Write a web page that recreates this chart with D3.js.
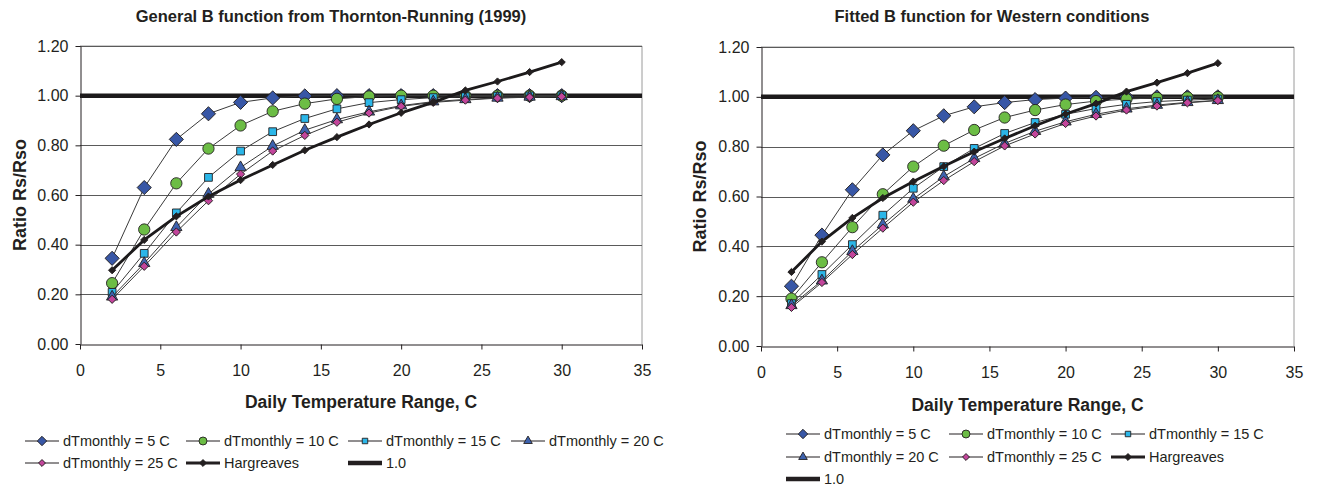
<!DOCTYPE html>
<html>
<head>
<meta charset="utf-8">
<script src="https://cdn.jsdelivr.net/npm/d3@7"></script>
<style>
  body { margin: 0; background: #fff; }
  svg { display: block; }
  text { font-family: "Liberation Sans", Arial, sans-serif; fill: #231f20; }
</style>
</head>
<body>
<svg id="chart" width="1322" height="489"></svg>
<script>
'use strict';

// daily temperature range (x)
const dtRange = [2, 4, 6, 8, 10, 12, 14, 16, 18, 20, 22, 24, 26, 28, 30];
const xTicks = [0, 5, 10, 15, 20, 25, 30, 35];
const yTicks = [0, 0.2, 0.4, 0.6, 0.8, 1.0, 1.2];
const unityX = [0, 35];
const unityY = [1.0, 1.0];

// General B function (Thornton-Running 1999)
const generalDT5 = [0.345, 0.63, 0.824, 0.927, 0.973, 0.991, 0.999, 1.0, 1.0, 1.0, 1.0, 1.0, 1.0, 1.0, 1.0];
const generalDT10 = [0.245, 0.461, 0.647, 0.787, 0.88, 0.937, 0.968, 0.987, 0.997, 1.0, 1.0, 1.0, 1.0, 1.0, 1.0];
const generalDT15 = [0.208, 0.365, 0.528, 0.671, 0.777, 0.855, 0.908, 0.947, 0.972, 0.984, 0.992, 0.996, 0.998, 0.999, 1.0];
const generalDT20 = [0.19, 0.325, 0.47, 0.604, 0.711, 0.797, 0.861, 0.904, 0.935, 0.96, 0.976, 0.985, 0.991, 0.995, 0.997];
const generalDT25 = [0.18, 0.313, 0.451, 0.577, 0.684, 0.777, 0.84, 0.893, 0.93, 0.957, 0.973, 0.982, 0.99, 0.994, 0.996];

// Fitted B function (Western conditions)
const fittedDT5 = [0.24, 0.445, 0.627, 0.767, 0.864, 0.924, 0.96, 0.977, 0.989, 0.995, 0.998, 1.0, 1.0, 1.0, 1.0];
const fittedDT10 = [0.19, 0.336, 0.477, 0.609, 0.72, 0.804, 0.867, 0.917, 0.947, 0.969, 0.983, 0.991, 0.996, 0.998, 0.999];
const fittedDT15 = [0.17, 0.287, 0.407, 0.525, 0.633, 0.72, 0.793, 0.853, 0.897, 0.93, 0.953, 0.97, 0.981, 0.987, 0.991];
const fittedDT20 = [0.163, 0.262, 0.38, 0.487, 0.59, 0.68, 0.753, 0.813, 0.862, 0.9, 0.93, 0.952, 0.967, 0.978, 0.986];
const fittedDT25 = [0.155, 0.255, 0.367, 0.473, 0.577, 0.664, 0.74, 0.803, 0.851, 0.893, 0.923, 0.947, 0.963, 0.976, 0.985];

// Hargreaves (same on both charts)
const hargreaves = [0.297, 0.419, 0.514, 0.594, 0.66, 0.721, 0.78, 0.833, 0.884, 0.931, 0.973, 1.021, 1.057, 1.095, 1.135];

const seriesNames = ['dTmonthly = 5 C', 'dTmonthly = 10 C', 'dTmonthly = 15 C', 'dTmonthly = 20 C', 'dTmonthly = 25 C', 'Hargreaves', '1.0'];

// marker styles per series
const styles = [
  { shape: 'diamond', fill: '#3857a6', size: 100, legendSize: 44, width: 1 },
  { shape: 'circle', fill: '#6cbd45', size: 100, legendSize: 50, width: 1 },
  { shape: 'square', fill: '#2bb6e8', size: 60, legendSize: 30, width: 1 },
  { shape: 'triangle', fill: '#3d62ae', size: 55, legendSize: 32, width: 1 },
  { shape: 'diamond', fill: '#c2459b', size: 34, legendSize: 24, width: 1 },
  { shape: 'diamond', fill: '#231f20', size: 26, legendSize: 24, width: 2.8 },
  { shape: null, fill: null, size: 0, legendSize: 0, width: 4.5 }
];

const panels = [
  {
    title: 'General B function from Thornton-Running (1999)',
    series: [generalDT5, generalDT10, generalDT15, generalDT20, generalDT25, hargreaves],
    plot: { left: 80, right: 642, top: 46, bottom: 344 },
    titleX: 331, titleY: 22,
    yTitleX: 26,
    xTitleY: 408,
    legendRows: [441, 463],
    legendCols: [25, 186, 348, 511],
    legendSlots: [[0, 0], [0, 1], [0, 2], [0, 3], [1, 0], [1, 1], [1, 2]]
  },
  {
    title: 'Fitted B function for Western conditions',
    series: [fittedDT5, fittedDT10, fittedDT15, fittedDT20, fittedDT25, hargreaves],
    plot: { left: 761, right: 1294, top: 47, bottom: 346 },
    titleX: 992, titleY: 22,
    yTitleX: 706,
    xTitleY: 411,
    legendRows: [434, 457, 479],
    legendCols: [786, 949, 1111],
    legendSlots: [[0, 0], [0, 1], [0, 2], [1, 0], [1, 1], [1, 2], [2, 0]]
  }
];

const svg = d3.select('#chart');

const symbolFor = shape => {
  if (shape === 'circle') return d3.symbolCircle;
  if (shape === 'triangle') return d3.symbolTriangle;
  return d3.symbolSquare;
};

const drawMarker = (g, style, size, cx, cy) => {
  const rotate = style.shape === 'diamond' ? ' rotate(45)' : '';
  g.append('path')
    .attr('d', d3.symbol().type(symbolFor(style.shape)).size(size)())
    .attr('transform', `translate(${cx},${cy})${rotate}`)
    .attr('fill', style.fill)
    .attr('stroke', '#231f20')
    .attr('stroke-width', 0.9);
};

const drawPanel = panel => {
  const p = panel.plot;
  const x = d3.scaleLinear().domain([0, 35]).range([p.left, p.right]);
  const y = d3.scaleLinear().domain([0, 1.2]).range([p.bottom, p.top]);
  const g = svg.append('g');

  // plot border (top / right)
  g.append('path')
    .attr('d', `M${p.left},${p.top}H${p.right}V${p.bottom}`)
    .attr('fill', 'none')
    .attr('stroke', '#9a9a9a')
    .attr('stroke-width', 1);

  // horizontal gridlines
  g.selectAll('.grid')
    .data(yTicks.filter(v => v > 0))
    .join('line')
    .attr('x1', p.left)
    .attr('x2', p.right)
    .attr('y1', d => Math.round(y(d)) + 0.5)
    .attr('y2', d => Math.round(y(d)) + 0.5)
    .attr('stroke', '#5a5a5a')
    .attr('stroke-width', 1);

  // axes
  const yAxis = g.append('g')
    .attr('transform', `translate(${p.left + 0.5},0)`)
    .call(d3.axisLeft(y).tickValues(yTicks).tickFormat(d3.format('.2f')).tickSize(5).tickPadding(7).tickSizeOuter(0));
  const xAxis = g.append('g')
    .attr('transform', `translate(0,${p.bottom + 0.5})`)
    .call(d3.axisBottom(x).tickValues(xTicks).tickSize(5).tickPadding(15).tickSizeOuter(0));
  [yAxis, xAxis].forEach(ax => {
    ax.selectAll('path, line').attr('stroke', '#231f20');
    ax.selectAll('text').attr('font-size', 16).attr('fill', '#231f20');
  });

  // unity line 1.0
  const unity = unityX.map((v, i) => [v, unityY[i]]);
  g.append('path')
    .attr('d', d3.line().x(d => x(d[0])).y(d => y(d[1]))(unity))
    .attr('fill', 'none')
    .attr('stroke', '#1c1a1b')
    .attr('stroke-width', styles[6].width);

  // data series, lines and markers
  panel.series.forEach((values, i) => {
    const style = styles[i];
    const pts = dtRange.map((v, k) => [v, values[k]]);
    g.append('path')
      .attr('d', d3.line().x(d => x(d[0])).y(d => y(d[1]))(pts))
      .attr('fill', 'none')
      .attr('stroke', i === 5 ? '#1c1a1b' : '#3a3a3a')
      .attr('stroke-width', style.width);
    pts.forEach(d => drawMarker(g, style, style.size, x(d[0]), y(d[1])));
  });

  // titles
  svg.append('text')
    .attr('x', panel.titleX)
    .attr('y', panel.titleY)
    .attr('text-anchor', 'middle')
    .attr('font-size', 16.5)
    .attr('font-weight', 'bold')
    .text(panel.title);
  svg.append('text')
    .attr('transform', `translate(${panel.yTitleX},${(p.top + p.bottom) / 2}) rotate(-90)`)
    .attr('text-anchor', 'middle')
    .attr('font-size', 18)
    .attr('font-weight', 'bold')
    .text('Ratio Rs/Rso');
  svg.append('text')
    .attr('x', (p.left + p.right) / 2)
    .attr('y', panel.xTitleY)
    .attr('text-anchor', 'middle')
    .attr('font-size', 17.5)
    .attr('font-weight', 'bold')
    .text('Daily Temperature Range, C');

  // legend
  const lg = svg.append('g');
  seriesNames.forEach((name, i) => {
    const style = styles[i];
    const [row, col] = panel.legendSlots[i];
    const lx = panel.legendCols[col];
    const ly = panel.legendRows[row];
    lg.append('line')
      .attr('x1', lx).attr('x2', lx + 34)
      .attr('y1', ly).attr('y2', ly)
      .attr('stroke', '#231f20')
      .attr('stroke-width', i === 6 ? 4.5 : i === 5 ? 2.8 : 1);
    if (style.shape) drawMarker(lg, style, style.legendSize, lx + 17, ly);
    lg.append('text')
      .attr('x', lx + 38)
      .attr('y', ly + 5)
      .attr('font-size', 14.5)
      .text(name);
  });
};

panels.forEach(drawPanel);
</script>
</body>
</html>
